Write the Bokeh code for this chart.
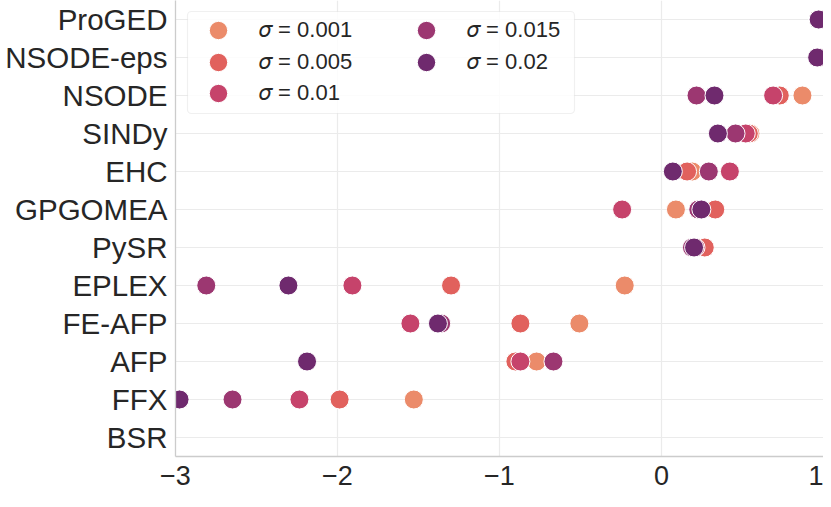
from bokeh.plotting import figure
from bokeh.models import ColumnDataSource, Legend, LegendItem, FixedTicker, BoxAnnotation
from bokeh.embed import file_html
from bokeh.resources import INLINE

NaN = float("nan")

methods = ["ProGED", "NSODE-eps", "NSODE", "SINDy", "EHC", "GPGOMEA",
           "PySR", "EPLEX", "FE-AFP", "AFP", "FFX", "BSR"]

sigma_labels = ["\U0001D70E = 0.001", "\U0001D70E = 0.005", "\U0001D70E = 0.01",
                "\U0001D70E = 0.015", "\U0001D70E = 0.02"]
sigma_colors = ["#EB8B6A", "#E1615D", "#C6436B", "#9C3771", "#6F2A6E"]

s0001 = [0.97, 0.975, 0.870, 0.549, 0.190, 0.089, 0.200, -0.227, -0.507, -0.771, -1.529, NaN]
s0005 = [0.97, 0.975, 0.730, 0.539, 0.158, 0.332, 0.267, -1.299, -0.871, -0.902, -1.987, NaN]
s001 = [0.97, 0.975, 0.689, 0.520, 0.422, -0.243, 0.210, -1.908, -1.550, -0.871, -2.235, NaN]
s0015 = [0.97, 0.975, 0.216, 0.457, 0.292, 0.227, 0.188, -2.810, -1.360, -0.667, -2.648, NaN]
s002 = [0.97, 0.961, 0.327, 0.348, 0.070, 0.246, 0.201, -2.303, -1.380, -2.188, -2.975, NaN]
series = [s0001, s0005, s001, s0015, s002]

# legend layout: matplotlib-style 2 columns, filled column by column
legend_rows = [[0, 3], [1, 4], [2]]

xticks = [-3, -2, -1, 0, 1]
xtick_labels = ["\u22123", "\u22122", "\u22121", "0", "1"]

FONT = "Liberation Sans"
TXT = "#262626"
GRID = "#EBEBEB"
SPINE = "#CCCCCC"

FW, FH = 648, 456

p = figure(frame_width=FW, frame_height=FH, y_range=list(reversed(methods)),
           x_range=(-3, 1), output_backend="svg", toolbar_location=None,
           min_border_left=175, min_border_right=0, min_border_top=0,
           min_border_bottom=40)
p.outline_line_color = None
p.background_fill_color = "white"
p.border_fill_color = "white"

p.xgrid.grid_line_color = GRID
p.ygrid.grid_line_color = GRID
p.xgrid.grid_line_width = 1.2
p.ygrid.grid_line_width = 1.2

p.xaxis.ticker = FixedTicker(ticks=xticks)
p.xaxis.major_label_overrides = {t: l for t, l in zip(xticks, xtick_labels)}
for ax in (p.xaxis, p.yaxis):
    ax.axis_line_color = SPINE
    ax.axis_line_width = 1.3
    ax.major_tick_line_color = None
    ax.minor_tick_line_color = None
    ax.major_tick_out = 0
    ax.major_tick_in = 0
    ax.major_label_text_font = FONT
    ax.major_label_text_color = TXT
p.xaxis.major_label_text_font_size = "27px"
p.yaxis.major_label_text_font_size = "29.5px"
p.xaxis.major_label_standoff = 9
p.yaxis.major_label_standoff = 8

renderers = []
for vals, col in zip(series, sigma_colors):
    src = ColumnDataSource(dict(x=vals, y=methods))
    r = p.scatter(x="x", y="y", source=src, size=19, fill_color=col,
                  line_color="white", line_width=1)
    renderers.append(r)

box = BoxAnnotation(left=12, right=399, top=FH - 11, bottom=FH - 113,
                    left_units="screen", right_units="screen",
                    top_units="screen", bottom_units="screen",
                    fill_color="white", fill_alpha=0.85,
                    line_color=SPINE, line_width=1.2, border_radius=4)
p.add_layout(box)

row_centers = [30, 61.5, 93]   # px below frame top
GH = 46
for idxs, cy in zip(legend_rows, row_centers):
    leg = Legend(items=[LegendItem(label=sigma_labels[i], renderers=[renderers[i]])
                        for i in idxs],
                 location=(20, FH - cy - GH / 2), orientation="horizontal",
                 margin=0, padding=0, spacing=24,
                 glyph_width=GH, glyph_height=GH, label_standoff=18,
                 label_width=120, label_height=20,
                 label_text_font=FONT, label_text_font_size="22px",
                 label_text_color=TXT,
                 border_line_color=None, background_fill_alpha=0)
    p.add_layout(leg)

open("out.html", "w").write(file_html(p, INLINE))
